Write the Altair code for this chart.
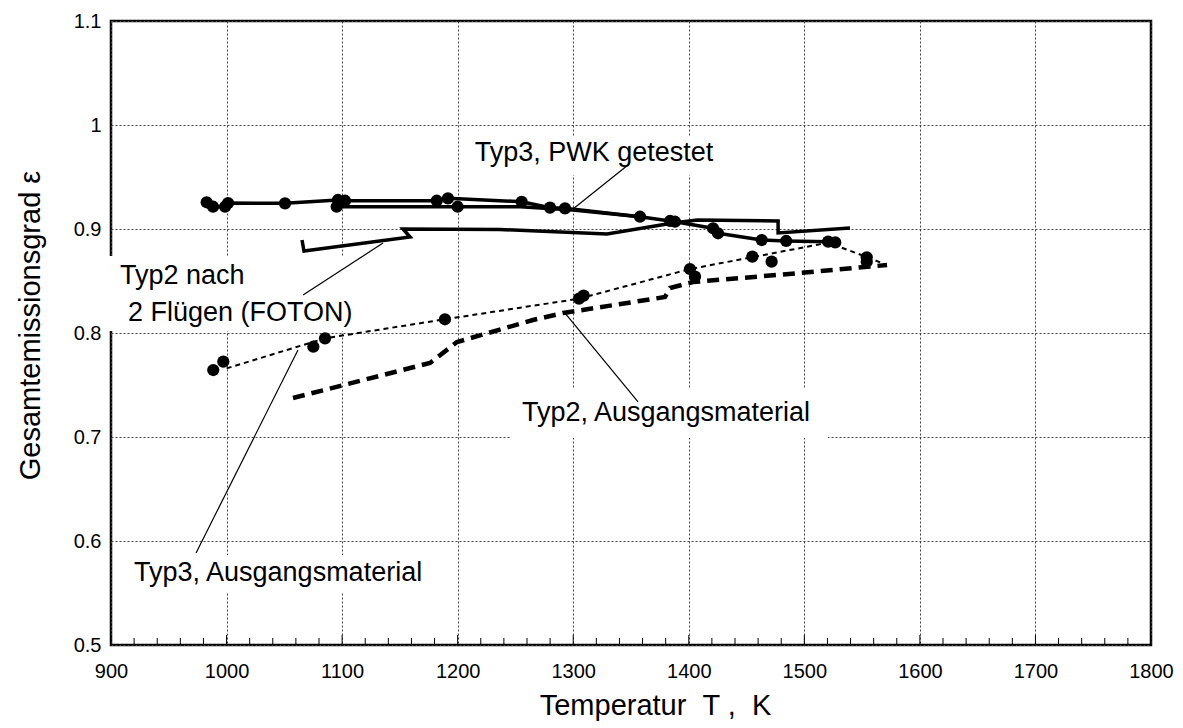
import altair as alt
import pandas as pd

# ---- data ----
pwk_T = [982.8, 988.3, 998.7, 1001.3, 1050.6, 1096.4, 1102.5, 1181.9, 1191.6, 1255.4, 1279.9,
         1292.9, 1357.8, 1383.8, 1388.1, 1421.0, 1425.3, 1463.1, 1484.3, 1520.6, 1526.7]
pwk_eps = [0.9257, 0.9214, 0.9214, 0.925, 0.9247, 0.9279, 0.9272, 0.9272, 0.9295, 0.9262, 0.9205,
           0.9199, 0.9118, 0.9077, 0.907, 0.9007, 0.8959, 0.8894, 0.8885, 0.8878, 0.8872]
pwk2_T = [1095.3, 1200.0, 1254.0, 1299.8, 1357.8]
pwk2_eps = [0.9214, 0.9214, 0.9214, 0.9183, 0.9118]
pwk2_marker_T = [1095.3, 1200.0]
pwk2_marker_eps = [0.9214, 0.9214]

foton_T = [1065.3, 1067.0, 1158.8, 1152.7, 1236.6, 1329.2, 1386.3, 1407.6, 1477.3, 1477.3, 1539.5]
foton_eps = [0.8894, 0.8788, 0.8923, 0.9, 0.8995, 0.8952, 0.9058, 0.9087, 0.9077, 0.8962, 0.901]

typ3a_line_T = [1000.1, 1085.2, 1189.0, 1305.0, 1401.0, 1520.6, 1554.0, 1571.3]
typ3a_line_eps = [0.766, 0.7949, 0.8132, 0.833, 0.8615, 0.8868, 0.8731, 0.8654]
typ3a_pts_T = [988.5, 997.2, 1075.1, 1085.2, 1189.0, 1305.0, 1309.0, 1401.0, 1405.4, 1455.0,
               1471.7, 1554.0, 1554.0]
typ3a_pts_eps = [0.7644, 0.7724, 0.7868, 0.7949, 0.8132, 0.833, 0.836, 0.8615, 0.8542, 0.8734,
                 0.8686, 0.8728, 0.8685]

typ2a_T = [1057.5, 1176.1, 1199.4, 1265.2, 1291.2, 1379.4, 1383.8, 1403.7, 1496.3, 1571.6]
typ2a_eps = [0.7375, 0.7712, 0.7913, 0.8125, 0.8192, 0.8346, 0.8433, 0.849, 0.8577, 0.8654]

x_major = [900, 1000, 1100, 1200, 1300, 1400, 1500, 1600, 1700, 1800]
x_minor = [v for v in range(920, 1800, 20) if v % 100 != 0]
y_major = [0.5, 0.6, 0.7, 0.8, 0.9, 1.0, 1.1]

labels = ["Typ3, PWK getestet", "Typ2 nach", "2 Flügen (FOTON)",
          "Typ2, Ausgangsmaterial", "Typ3, Ausgangsmaterial"]
label_T = [1318.0, 907.8, 914.7, 1380.3, 919.9]
label_eps = [0.9731, 0.8548, 0.8192, 0.7231, 0.5692]
label_align = ["center", "left", "left", "center", "left"]

leader_T1 = [1347.4, 1066.2, 1292.9, 1061.8]
leader_e1 = [0.9615, 0.8365, 0.8192, 0.7837]
leader_T2 = [1299.8, 1135.4, 1356.1, 973.6]
leader_e2 = [0.9192, 0.8865, 0.7337, 0.5885]

box_T1 = [1206.4, 898.3, 1245.3, 916.4]
box_T2 = [1429.4, 1117.2, 1520.5, 1176.0]
box_e1 = [0.9894, 0.874, 0.7471, 0.5865]
box_e2 = [0.9519, 0.8019, 0.699, 0.551]

FONT = "Liberation Sans, Arial, sans-serif"

xscale = alt.Scale(domain=[900, 1800], nice=False, zero=False)
yscale = alt.Scale(domain=[0.5, 1.1], nice=False, zero=False)

xaxis = alt.Axis(values=x_major, format="d", grid=True, gridDash=[2, 2], gridColor="#444444",
                 gridWidth=1, ticks=False, domain=False, labelPadding=16, labelFontSize=20,
                 labelFlush=False, labelOverlap=False,
                 titleX=544, titleY=60, titleAlign="center", titleBaseline="middle")
yaxis = alt.Axis(values=y_major, format=".1~f", grid=True, gridDash=[2, 2], gridColor="#444444",
                 gridWidth=1, ticks=False, domain=False, labelPadding=10, labelFontSize=20,
                 labelFlush=False, labelOverlap=False,
                 titleX=-81, titleY=304, titleAlign="center", titleBaseline="middle")


def X(field="T"):
    return alt.X(f"{field}:Q", scale=xscale, axis=xaxis, title="Temperatur\u00a0\u00a0T ,\u00a0\u00a0K")


def Y(field="eps"):
    return alt.Y(f"{field}:Q", scale=yscale, axis=yaxis, title="Gesamtemissionsgrad ε")


def df(T, e, **extra):
    d = pd.DataFrame({"T": T, "eps": e})
    d["i"] = range(len(d))
    for k, v in extra.items():
        d[k] = v
    return d


pwk_lines = pd.concat([df(pwk_T, pwk_eps, branch="a"), df(pwk2_T, pwk2_eps, branch="b")])
pwk_pts = pd.concat([df(pwk_T, pwk_eps), df(pwk2_marker_T, pwk2_marker_eps)])

boxes = pd.DataFrame({"T1": box_T1, "T2": box_T2, "e1": box_e1, "e2": box_e2})
box_layer = alt.Chart(boxes).mark_rect(color="white", opacity=1).encode(
    x=X("T1"), x2="T2:Q", y=Y("e1"), y2="e2:Q")

pwk_line = alt.Chart(pwk_lines).mark_line(color="black", strokeWidth=3.5, strokeJoin="round").encode(
    x=X(), y=Y(), detail="branch:N", order="i:Q")
pwk_point = alt.Chart(pwk_pts).mark_circle(color="black", size=150, opacity=1).encode(x=X(), y=Y())

foton_line = alt.Chart(df(foton_T, foton_eps)).mark_line(color="black", strokeWidth=3.5).encode(
    x=X(), y=Y(), order="i:Q")

typ3a_line = alt.Chart(df(typ3a_line_T, typ3a_line_eps)).mark_line(
    color="black", strokeWidth=2, strokeDash=[5, 4]).encode(x=X(), y=Y(), order="i:Q")
typ3a_point = alt.Chart(df(typ3a_pts_T, typ3a_pts_eps)).mark_circle(
    color="black", size=150, opacity=1).encode(x=X(), y=Y())

typ2a_line = alt.Chart(df(typ2a_T, typ2a_eps)).mark_line(
    color="black", strokeWidth=4.5, strokeDash=[12, 7]).encode(x=X(), y=Y(), order="i:Q")

leaders = pd.DataFrame({"T1": leader_T1, "T2": leader_T2, "e1": leader_e1, "e2": leader_e2})
leader_layer = alt.Chart(leaders).mark_rule(color="black", strokeWidth=1.2).encode(
    x=X("T1"), x2="T2:Q", y=Y("e1"), y2="e2:Q")

minor_ticks = alt.Chart(pd.DataFrame({"T": x_minor})).mark_rule(color="black", strokeWidth=1).encode(
    x=X(), y=alt.value(624), y2=alt.value(617))
major_ticks = alt.Chart(pd.DataFrame({"T": x_major})).mark_rule(color="black", strokeWidth=1).encode(
    x=X(), y=alt.value(624), y2=alt.value(614))

lab = pd.DataFrame({"txt": labels, "T": label_T, "eps": label_eps, "al": label_align})
text_layers = []
for al in ["left", "center"]:
    text_layers.append(
        alt.Chart(lab[lab["al"] == al]).mark_text(
            font=FONT, fontSize=27, color="black", align=al, baseline="middle").encode(
            x=X(), y=Y(), text="txt:N"))

chart = alt.layer(
    box_layer, foton_line, pwk_line, typ2a_line, typ3a_line, pwk_point, typ3a_point,
    leader_layer, minor_ticks, major_ticks, *text_layers
).properties(
    width=1040, height=624,
    autosize=alt.AutoSizeParams(type="none"),
    padding={"left": 111, "top": 21, "right": 32, "bottom": 83},
    background="white",
).configure_view(
    stroke="black", strokeWidth=2.5
).configure_axis(
    labelFont=FONT, titleFont=FONT, labelColor="black", titleColor="black",
    labelFontSize=20, titleFontSize=29, titleFontWeight="normal"
)

chart.save("out.html", embed_options={"renderer": "svg", "actions": False})
